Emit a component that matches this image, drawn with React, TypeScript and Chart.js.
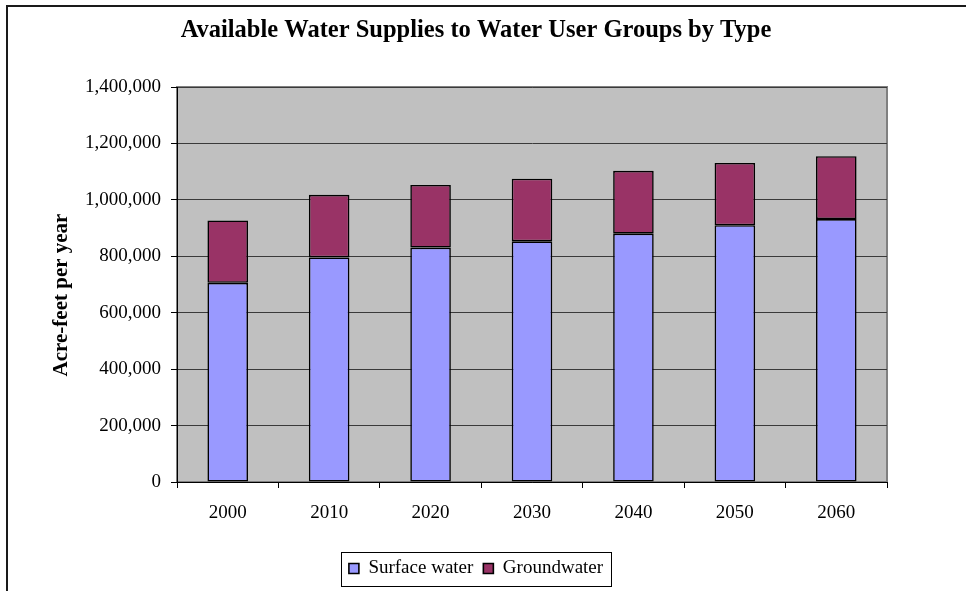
import React, { useEffect, useRef } from "react";
import { Chart, registerables } from "chart.js";

Chart.register(...registerables);

const categories = ["2000", "2010", "2020", "2030", "2040", "2050", "2060"];
const surfaceWater = [706000, 796000, 831000, 853000, 880000, 910000, 932000];
const groundwater = [221000, 222000, 222000, 222000, 223000, 221000, 223000];
const seriesNames = ["Surface water", "Groundwater"];
const chartTitle = "Available Water Supplies to Water User Groups by Type";
const yAxisTitle = "Acre-feet per year";
const yMin = 0;
const yMax = 1400000;
const yStep = 200000;

const FONT = "'Liberation Serif', 'Times New Roman', Times, serif";

export default function App() {
  const canvasRef = useRef<HTMLCanvasElement | null>(null);

  useEffect(() => {
    const canvas = canvasRef.current;
    if (!canvas) return;

    const decor = {
      id: "decor",
      beforeDraw(chart: any) {
        const { ctx, chartArea } = chart;
        const { left, top, right, bottom } = chartArea;
        ctx.save();
        // outer frame (top and left visible)
        ctx.strokeStyle = "#1a1a1a";
        ctx.lineWidth = 2;
        ctx.beginPath();
        ctx.moveTo(7, chart.height);
        ctx.lineTo(7, 6);
        ctx.lineTo(chart.width, 6);
        ctx.stroke();
        // plot background
        ctx.fillStyle = "#C0C0C0";
        ctx.fillRect(left, top, right - left, bottom - top);
        ctx.strokeStyle = "#808080";
        ctx.lineWidth = 2;
        ctx.strokeRect(left, top, right - left, bottom - top);
        ctx.restore();
      },
      afterDraw(chart: any) {
        const { ctx } = chart;
        ctx.save();
        // y axis title
        ctx.font = `bold 21px ${FONT}`;
        ctx.fillStyle = "#000";
        ctx.textAlign = "center";
        ctx.textBaseline = "middle";
        ctx.translate(62, 295);
        ctx.rotate(-Math.PI / 2);
        ctx.fillText(yAxisTitle, 0, 0);
        ctx.restore();
        // legend border
        const lg = chart.legend;
        if (lg && lg.legendHitBoxes && lg.legendHitBoxes.length) {
          const hb = lg.legendHitBoxes;
          const first = hb[0];
          const last = hb[hb.length - 1];
          const cy = first.top + first.height / 2;
          const x0 = first.left - 8;
          const x1 = last.left + last.width + 8;
          ctx.save();
          ctx.strokeStyle = "#000";
          ctx.lineWidth = 1;
          ctx.strokeRect(Math.round(x0) + 0.5, Math.round(cy - 17) + 0.5, Math.round(x1 - x0), 34);
          ctx.restore();
        }
      },
    };

    const chart = new Chart(canvas, {
      type: "bar",
      data: {
        labels: categories,
        datasets: [
          {
            label: seriesNames[0],
            data: surfaceWater,
            backgroundColor: "#9999FF",
            borderColor: "#000000",
            borderWidth: 1.6,
            borderSkipped: false,
            barPercentage: 0.4,
            categoryPercentage: 1,
          },
          {
            label: seriesNames[1],
            data: groundwater,
            backgroundColor: "#993366",
            borderColor: "#000000",
            borderWidth: 1.6,
            borderSkipped: false,
            barPercentage: 0.4,
            categoryPercentage: 1,
          },
        ],
      },
      options: {
        responsive: false,
        animation: false,
        layout: { padding: { left: 0, right: 14, top: 0, bottom: 3 } },
        plugins: {
          title: {
            display: true,
            text: chartTitle,
            color: "#000",
            font: { family: FONT, size: 24.5, weight: "bold", lineHeight: 1.2 },
            padding: { top: 16, bottom: 41.6 },
          },
          legend: {
            position: "bottom",
            labels: {
              boxWidth: 10,
              boxHeight: 10,
              padding: 10,
              color: "#000",
              font: { family: FONT, size: 19 },
            },
          },
          tooltip: { enabled: false },
        },
        scales: {
          x: {
            stacked: true,
            offset: true,
            grid: {
              offset: true,
              drawOnChartArea: false,
              drawTicks: true,
              tickLength: 6,
              color: "#000",
            },
            border: { display: true, color: "#000", width: 1 },
            ticks: {
              color: "#000",
              padding: 14,
              maxRotation: 0,
              font: { family: FONT, size: 19, lineHeight: 1.2 },
            },
            afterFit: (s: any) => {
              s.height = 67;
            },
          },
          y: {
            stacked: true,
            min: yMin,
            max: yMax,
            grid: {
              color: "#3a3a3a",
              tickColor: "#000",
              tickLength: 6,
              lineWidth: 1,
            },
            border: { display: true, color: "#000", width: 1 },
            ticks: {
              stepSize: yStep,
              color: "#000",
              padding: 10,
              font: { family: FONT, size: 19 },
              callback: (v: any) => Number(v).toLocaleString("en-US"),
            },
            afterFit: (s: any) => {
              s.width = 177;
            },
          },
          yRight: {
            type: "linear",
            position: "right",
            display: true,
            grid: { display: false, drawTicks: false },
            border: { display: false },
            ticks: { display: false },
            afterFit: (s: any) => {
              s.width = 65;
            },
          },
        },
      },
      plugins: [decor],
    } as any);

    return () => chart.destroy();
  }, []);

  return (
    <div style={{ position: "fixed", left: 0, top: 0, width: 966, height: 591, background: "#fff" }}>
      <canvas ref={canvasRef} width={966} height={591} style={{ display: "block" }} />
    </div>
  );
}
